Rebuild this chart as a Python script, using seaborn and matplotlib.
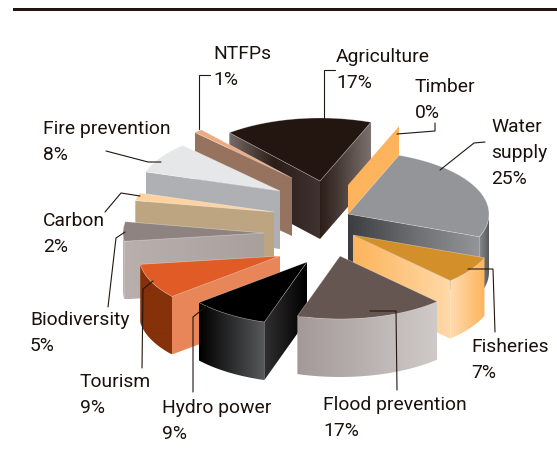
import numpy as np
import matplotlib
matplotlib.use("Agg")
import matplotlib.pyplot as plt
from matplotlib.patches import Polygon
import seaborn as sns

# ---- data ----
label_lines = [["Water", "supply"], ["Fisheries"], ["Flood prevention"], ["Hydro power"],
               ["Tourism"], ["Biodiversity"], ["Carbon"], ["Fire prevention"],
               ["NTFPs"], ["Agriculture"], ["Timber"]]
shares = [25, 7, 17, 9, 9, 5, 2, 8, 1, 17, 0]

# ---- layout (pixel space of the figure) ----
START_ANGLE = 21.2
RX, RY, DEPTH = 141, 63, 58
apex_x = [348, 353, 340, 307, 280, 264, 274, 280, 292, 320, 348]
apex_y = [214, 235, 256, 262, 256, 233, 212, 191, 178, 181, 185]
label_x = [491, 471, 323, 162, 80, 30, 43, 43, 213, 336, 415]
label_y = [132, 352, 410, 413, 387, 325, 226, 134, 59, 62, 92]
LINE_GAP = 26
leaders = [
    [(440, 170), (474, 143), (485, 142)],
    [(468, 269), (493, 269), (495, 332)],
    [(370, 311), (396, 311), (397, 390)],
    [(208, 305), (193, 317), (193, 392)],
    [(153, 281), (143, 289), (142, 368)],
    [(125, 232), (116, 238), (108, 307)],
    [(140, 196), (121, 193), (105, 212)],
    [(106, 151), (148, 162), (161, 162)],
    [(210, 75), (199, 75), (199, 129)],
    [(335, 70), (324, 70), (324, 118)],
    [(397, 134), (435, 131), (435, 123)],
]
draw_order = [9, 10, 0, 1, 8, 7, 6, 5, 4, 3, 2]

# ---- colours: top, start-edge gradient, end-edge gradient, rim gradient ----
top_colors = ["#939598", "#d28f2a", "#655651", "#000000", "#e15b27", "#8e8381",
              "#fed39f", "#e6e7e8", "#eeaa80", "#231510", "#fdb45c"]
start_faces = [None, None, None, ["#303032", "#000000"], ["#e8865a", "#e8865a"],
               ["#b9b0ad", "#a8a09d"], ["#bea582", "#bea582"], ["#aeb0b3", "#aeb0b3"],
               ["#96735f", "#96735f"], ["#756a66", "#2b1d18", "#40332f"], None]
end_faces = [["#3c3d40", "#6d6e71", "#939598"], ["#fdb45c", "#ffd9a8"], None, None, None, None,
             None, None, None, ["#2b1d18", "#7a706d"], ["#fdb45c", "#fdb45c"]]
rim_faces = [["#8a8b8d", "#58595b"], ["#ffdcb0", "#fdb45c"], ["#a39a98", "#cfcac8"],
             ["#000000", "#58595b"], ["#85310a", "#85310a"], ["#b9b0ad", "#b9b0ad"],
             None, None, None, None, None]

sns.set_theme(style="white")
plt.rcParams["font.family"] = ["Roboto", "DejaVu Sans"]

fig = plt.figure(figsize=(5.57, 4.68), dpi=100)
ax = fig.add_axes([0, 0, 1, 1])
ax.set_axis_off()


def point(cx, cy, angle):
    a = np.radians(angle)
    return cx + RX * np.sin(a), cy - RY * np.cos(a)


def gradient_face(pts, stops, z):
    pts = np.asarray(pts)
    cmap = sns.blend_palette(stops, as_cmap=True)
    x0, x1 = pts[:, 0].min(), pts[:, 0].max()
    y0, y1 = pts[:, 1].min(), pts[:, 1].max()
    img = ax.imshow(np.linspace(0, 1, 128).reshape(1, -1), cmap=cmap, vmin=0, vmax=1,
                    extent=(x0, x1, y1, y0), aspect="auto", zorder=z, interpolation="bilinear")
    patch = Polygon(pts, closed=True, transform=ax.transData, fc="none", ec="none")
    ax.add_patch(patch)
    img.set_clip_path(patch)


def radial_face(cx, cy, angle, stops, z):
    px, py = point(cx, cy, angle)
    pts = [(cx, cy), (px, py), (px, py + DEPTH), (cx, cy + DEPTH)]
    gradient_face(pts, stops, z)


fractions = np.array(shares) / sum(shares) * 360
cum = START_ANGLE + np.concatenate([[0], np.cumsum(fractions)])

z = 2.0
for i in draw_order:
    cx, cy = apex_x[i], apex_y[i]
    a1, a2 = cum[i], cum[i + 1]
    # outer rim (only the part turned towards the viewer)
    lo, hi = max(a1, 90), min(a2, 270)
    if hi > lo and rim_faces[i]:
        arc = np.linspace(lo, hi, 60)
        xs, ys = point(cx, cy, arc)
        pts = list(zip(xs, ys)) + list(zip(xs[::-1], ys[::-1] + DEPTH))
        gradient_face(pts, rim_faces[i], z)
        z += 0.01
    if start_faces[i]:
        radial_face(cx, cy, a1, start_faces[i], z)
        z += 0.01
    if end_faces[i]:
        radial_face(cx, cy, a2, end_faces[i], z)
        z += 0.01
    if a2 > a1:
        arc = np.linspace(a1, a2, 60)
        xs, ys = point(cx, cy, arc)
        ax.add_patch(Polygon([(cx, cy)] + list(zip(xs, ys)), closed=True, fc=top_colors[i],
                             ec=(1, 1, 1, 0.4), lw=0.5, zorder=z))
        z += 0.01

for i, path in enumerate(leaders):
    xs, ys = zip(*path)
    ax.plot(xs, ys, color="#231510", lw=0.8, zorder=50, solid_joinstyle="miter")
    lines = label_lines[i] + [f"{shares[i]}%"]
    for k, line in enumerate(lines):
        ax.text(label_x[i], label_y[i] + k * LINE_GAP, line, fontsize=13.9, color="#1a100c",
                va="baseline", ha="left", zorder=51)

ax.axhspan(8, 11, xmin=13 / 557, xmax=1, color="#231510", lw=0, zorder=60)
ax.set_xlim(0, 557)
ax.set_ylim(468, 0)
fig.savefig("out.png", dpi=100, facecolor="white")
